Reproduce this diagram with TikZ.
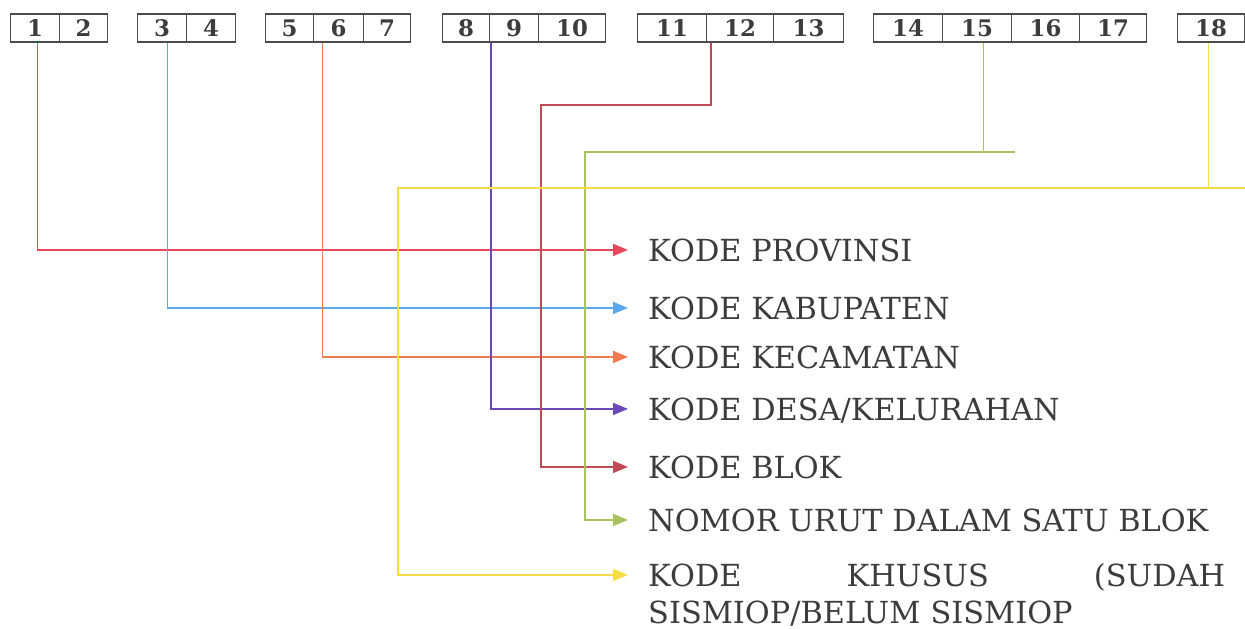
\documentclass[tikz,border=0pt]{standalone}
\usepackage{fontspec}
\setmainfont{DejaVu Serif}
\usetikzlibrary{arrows.meta}

\definecolor{ink}{RGB}{60,60,60}
\definecolor{provred}{RGB}{232,72,90}
\definecolor{kabblue}{RGB}{90,168,238}
\definecolor{kecorange}{RGB}{242,122,76}
\definecolor{desapurple}{RGB}{107,72,181}
\definecolor{blokred}{RGB}{194,74,85}
\definecolor{urutgreen}{RGB}{169,194,94}
\definecolor{khususyellow}{RGB}{247,220,69}

\begin{document}
\begin{tikzpicture}[x=0.02cm, y=-0.02cm,
    cell/.style={draw=black!70, line width=0.6pt, minimum height=0.56cm, inner sep=0pt,
                 anchor=west, text=ink, font=\bfseries\fontsize{13}{13}\selectfont},
    lbl/.style={anchor=base west, inner ysep=0pt, inner xsep=11.3pt, text=ink,
                font=\fontsize{17.3}{21.5}\selectfont},
    wire/.style={line width=1pt},
    link/.style={wire, -{Triangle[length=3mm, width=2.4mm]}}]

    \useasboundingbox (0,0) rectangle (1245,629);

    % the 18 digit boxes
    \node[cell, minimum width=0.98cm] (c1) at (10,28) {1};
    \node[cell, minimum width=0.96cm] (c2) at (59,28) {2};

    \node[cell, minimum width=0.98cm] (c3) at (137,28) {3};
    \node[cell, minimum width=0.98cm] (c4) at (186,28) {4};

    \node[cell, minimum width=0.96cm] (c5) at (265,28) {5};
    \node[cell, minimum width=1.00cm] (c6) at (313,28) {6};
    \node[cell, minimum width=0.94cm] (c7) at (363,28) {7};

    \node[cell, minimum width=0.94cm] (c8) at (442,28) {8};
    \node[cell, minimum width=0.98cm] (c9) at (489,28) {9};
    \node[cell, minimum width=1.34cm] (c10) at (538,28) {10};

    \node[cell, minimum width=1.38cm] (c11) at (637,28) {11};
    \node[cell, minimum width=1.34cm] (c12) at (706,28) {12};
    \node[cell, minimum width=1.40cm] (c13) at (773,28) {13};

    \node[cell, minimum width=1.38cm] (c14) at (873,28) {14};
    \node[cell, minimum width=1.38cm] (c15) at (942,28) {15};
    \node[cell, minimum width=1.36cm] (c16) at (1011,28) {16};
    \node[cell, minimum width=1.34cm] (c17) at (1079,28) {17};

    \node[cell, minimum width=1.34cm] (c18) at (1177,28) {18};

    % labels
    \node[lbl] (l1) at (628,261) {KODE PROVINSI};
    \node[lbl] (l2) at (628,319) {KODE KABUPATEN};
    \node[lbl] (l3) at (628,368) {KODE KECAMATAN};
    \node[lbl] (l4) at (628,420) {KODE DESA/KELURAHAN};
    \node[lbl] (l5) at (628,478) {KODE BLOK};
    \node[lbl] (l6) at (628,531) {NOMOR URUT DALAM SATU BLOK};
    \node[lbl, text width=11.54cm, align=left] (l7) at (628,586)
        {KODE\hfill KHUSUS\hfill (SUDAH\\SISMIOP/BELUM SISMIOP};

    % free ends
    \coordinate (urutEnd) at (1015,152);
    \coordinate (khususEnd) at (1245,188);

    % connectors
    \draw[link, provred] ([xshift=0.05cm]c1.south) |- ([yshift=6.3pt]l1.base west);
    \draw[link, kabblue] ([xshift=0.11cm]c3.south) |- ([yshift=6.3pt]l2.base west);
    \draw[link, kecorange] ([xshift=-0.32cm]c6.south) |- ([yshift=6.3pt]l3.base west);
    \draw[link, desapurple] ([xshift=0.04cm]c9.south west) |- ([yshift=6.3pt]l4.base west);
    \draw[link, blokred] ([xshift=0.1cm]c12.south west) |- (541,105)
        |- ([yshift=6.3pt]l5.base west);

    \draw[wire, urutgreen] ([xshift=0.13cm]c15.south) -- ([xshift=0.13cm]c15.south |- urutEnd);
    \draw[link, urutgreen] (urutEnd) -- (585,152) |- ([yshift=6.3pt]l6.base west);

    \draw[wire, khususyellow] ([xshift=-0.05cm]c18.south) -- ([xshift=-0.05cm]c18.south |- khususEnd);
    \draw[link, khususyellow] (khususEnd) -- (398,188) |- ([yshift=6.3pt]l7.base west);
\end{tikzpicture}
\end{document}
